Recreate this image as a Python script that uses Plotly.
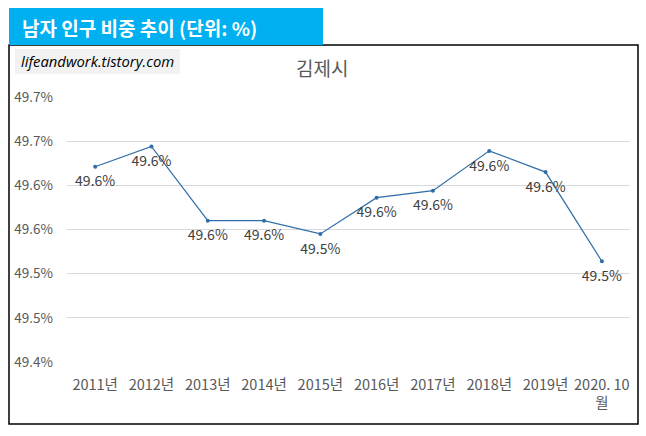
import plotly.graph_objects as go

# 김제시 남자 인구 비중 (%)
years = ["2011년", "2012년", "2013년", "2014년", "2015년", "2016년", "2017년",
         "2018년", "2019년", "2020. 10<br>월"]
male_share = [49.621, 49.644, 49.560, 49.560, 49.545, 49.586, 49.594,
              49.639, 49.615, 49.514]
y_ticks = [49.40, 49.45, 49.50, 49.55, 49.60, 49.65, 49.70]
y_tick_text = ["49.4%", "49.5%", "49.5%", "49.6%", "49.6%", "49.7%", "49.7%"]

W, H = 646, 436
L, R, T, B = 67, 16, 97, 74
font_kr = "Noto Sans CJK KR, Malgun Gothic, sans-serif"


def px_x(p):
    return (p - L) / (W - L - R)


def px_y(p):
    return (H - B - p) / (H - T - B)


xs = list(range(len(years)))
fig = go.Figure()
fig.add_trace(go.Scatter(
    x=xs, y=male_share,
    mode="lines+markers",
    line=dict(color="#2E6DA8", width=1.2),
    marker=dict(size=4, color="#2E6DA8"),
    hoverinfo="skip",
))
# data labels: invisible larger markers push the text a bit further below the points
fig.add_trace(go.Scatter(
    x=xs, y=male_share,
    mode="markers+text",
    marker=dict(size=13, color="rgba(0,0,0,0)"),
    texttemplate="%{y:.1f}%",
    textposition="bottom center",
    textfont=dict(size=14, color="#404040", family=font_kr),
    cliponaxis=False,
    hoverinfo="skip",
))

shapes = [
    # chart border
    dict(type="rect", xref="paper", yref="paper",
         x0=px_x(9), x1=px_x(638), y0=px_y(424), y1=px_y(45),
         line=dict(color="black", width=1.5), fillcolor="rgba(0,0,0,0)", layer="below"),
    # heading box
    dict(type="rect", xref="paper", yref="paper",
         x0=px_x(9), x1=px_x(323), y0=px_y(45), y1=px_y(8),
         line=dict(width=0), fillcolor="#00B0F0"),
    # watermark box
    dict(type="rect", xref="paper", yref="paper",
         x0=px_x(15), x1=px_x(180), y0=px_y(74), y1=px_y(49),
         line=dict(width=0), fillcolor="#F2F2F2"),
]

annotations = [
    dict(text="<b>남자 인구 비중 추이 (단위: %)</b>", xref="paper", yref="paper",
         x=px_x(20), y=px_y(27), xanchor="left", yanchor="middle", showarrow=False,
         font=dict(size=19, color="white", family=font_kr)),
    dict(text="<i>lifeandwork.tistory.com</i>", xref="paper", yref="paper",
         x=px_x(19), y=px_y(61.5), xanchor="left", yanchor="middle", showarrow=False,
         font=dict(size=14.8, color="black", family="Open Sans, sans-serif")),
    dict(text="김제시", xref="paper", yref="paper",
         x=px_x(322), y=px_y(67), xanchor="center", yanchor="middle", showarrow=False,
         font=dict(size=19, color="#595959", family=font_kr)),
]

fig.update_layout(
    width=W, height=H,
    margin=dict(l=L, r=R, t=T, b=B),
    paper_bgcolor="white", plot_bgcolor="white",
    showlegend=False,
    shapes=shapes,
    annotations=annotations,
    xaxis=dict(
        tickmode="array", tickvals=xs, ticktext=years,
        range=[-0.5, len(years) - 0.5],
        showgrid=False, zeroline=False, showline=False, ticks="",
        ticklabelstandoff=12,
        tickfont=dict(size=14.5, color="#595959", family=font_kr),
    ),
    yaxis=dict(
        tickmode="array", tickvals=y_ticks, ticktext=y_tick_text,
        range=[49.40, 49.70],
        showgrid=True, gridcolor="#D9D9D9", gridwidth=1,
        zeroline=False, showline=False, ticks="",
        ticklabelstandoff=13,
        tickfont=dict(size=13.5, color="#595959", family=font_kr),
    ),
)

# page body has a default 8px margin; drop it so the figure fills the window
fig.write_html("out.html", config={"displayModeBar": False},
               post_script="document.body.style.margin='0';")
